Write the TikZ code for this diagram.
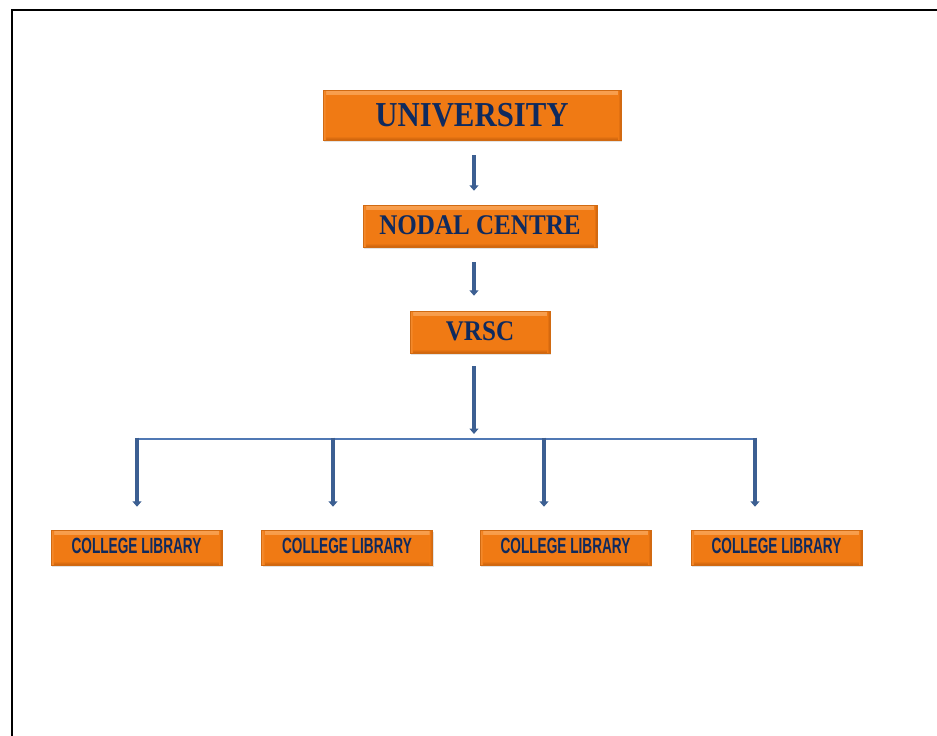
\documentclass[tikz,border=0pt]{standalone}
\usepackage{fontspec}
\usetikzlibrary{arrows.meta,shadows}
\newfontfamily\headfont[FakeStretch=0.88]{Liberation Serif}
\newfontfamily\libfont[FakeStretch=0.62]{Liberation Sans}
\definecolor{boxorange}{HTML}{F07A14}
\definecolor{boxlight}{HTML}{F8A050}
\definecolor{boxdark}{HTML}{C8600C}
\definecolor{boxedge}{HTML}{D06A12}
\definecolor{textnavy}{HTML}{0F2A5E}
\definecolor{arrowblue}{HTML}{3C5F92}
\definecolor{busblue}{HTML}{5078B4}
\tikzset{
  orgbox/.style={draw=boxedge, line width=0.5pt, fill=boxorange,
    drop shadow={shadow xshift=1pt, shadow yshift=-2pt, fill=black!22},
    path picture={
      % bevelled rim: light upper edge, darker lower edge
      \shade[top color=boxlight, bottom color=boxorange]
        (path picture bounding box.north west) rectangle
        ([yshift=-4pt]path picture bounding box.north east);
      \shade[top color=boxorange, bottom color=boxdark]
        ([yshift=4pt]path picture bounding box.south west) rectangle
        (path picture bounding box.south east);
      \shade[left color=boxlight!60!boxorange, right color=boxorange]
        (path picture bounding box.south west) rectangle
        ([xshift=3pt]path picture bounding box.north west);
      \shade[left color=boxorange, right color=boxdark]
        ([xshift=-3pt]path picture bounding box.south east) rectangle
        (path picture bounding box.north east);
    },
    text=textnavy, inner sep=0pt, text depth=0pt, anchor=center},
  bigbox/.style={orgbox, text height=23pt, text depth=1pt,
    font=\headfont\bfseries\fontsize{35}{35}\selectfont},
  midbox/.style={orgbox, text height=19pt, text depth=3pt,
    font=\headfont\bfseries\fontsize{28.5}{28.5}\selectfont},
  libbox/.style={orgbox, minimum width=171pt, minimum height=35pt,
    text height=16pt, text depth=4pt,
    font=\libfont\bfseries\fontsize{22}{22}\selectfont},
  flowarrow/.style={draw=arrowblue, line width=4pt,
    -{Triangle[width=9pt,length=5.5pt]}},
  busline/.style={draw=busblue, line width=2.6pt},
  frameline/.style={draw=black, line width=2pt}
}
\begin{document}
\begin{tikzpicture}[x=1pt,y=-1pt]
  \useasboundingbox (0,0) rectangle (937,736);
  % outer frame, open towards the right and bottom
  \draw[frameline] (940,9.5) -- (11.5,9.5) -- (11.5,740);

  % hierarchy boxes
  \node[bigbox, minimum width=298pt, minimum height=50pt] (uni) at (472,115) {UNIVERSITY};
  \node[midbox, minimum width=234pt, minimum height=42pt] (nodal) at (480,226) {NODAL CENTRE};
  \node[midbox, minimum width=140pt, minimum height=42pt] (vrsc) at (480,332) {VRSC};

  \node[libbox] (c1) at (136.5,547.5) {COLLEGE LIBRARY};
  \node[libbox] (c2) at (347,547.5) {COLLEGE LIBRARY};
  \node[libbox] (c3) at (565.5,547.5) {COLLEGE LIBRARY};
  \node[libbox] (c4) at (776.5,547.5) {COLLEGE LIBRARY};

  % axis of the main arrows and the distribution bus
  \coordinate (axis) at (474,0);
  \coordinate (bus) at (474,439);
  \coordinate (d1) at (137,439);
  \coordinate (d2) at (333,439);
  \coordinate (d3) at (544,439);
  \coordinate (d4) at (755,439);

  \draw[flowarrow, shorten <=15pt, shorten >=14pt] (uni.south -| axis) -- (nodal.north -| axis);
  \draw[flowarrow, shorten <=15pt, shorten >=15pt] (nodal.south -| axis) -- (vrsc.north -| axis);
  \draw[flowarrow, shorten <=13pt, shorten >=5pt] (vrsc.south -| axis) -- (bus);

  \draw[busline] (d1) -- (d4);

  \draw[flowarrow, shorten >=23pt] ([yshift=1.3pt]d1) -- (c1.north -| d1);
  \draw[flowarrow, shorten >=23pt] ([yshift=1.3pt]d2) -- (c2.north -| d2);
  \draw[flowarrow, shorten >=23pt] ([yshift=1.3pt]d3) -- (c3.north -| d3);
  \draw[flowarrow, shorten >=23pt] ([yshift=1.3pt]d4) -- (c4.north -| d4);
\end{tikzpicture}
\end{document}
